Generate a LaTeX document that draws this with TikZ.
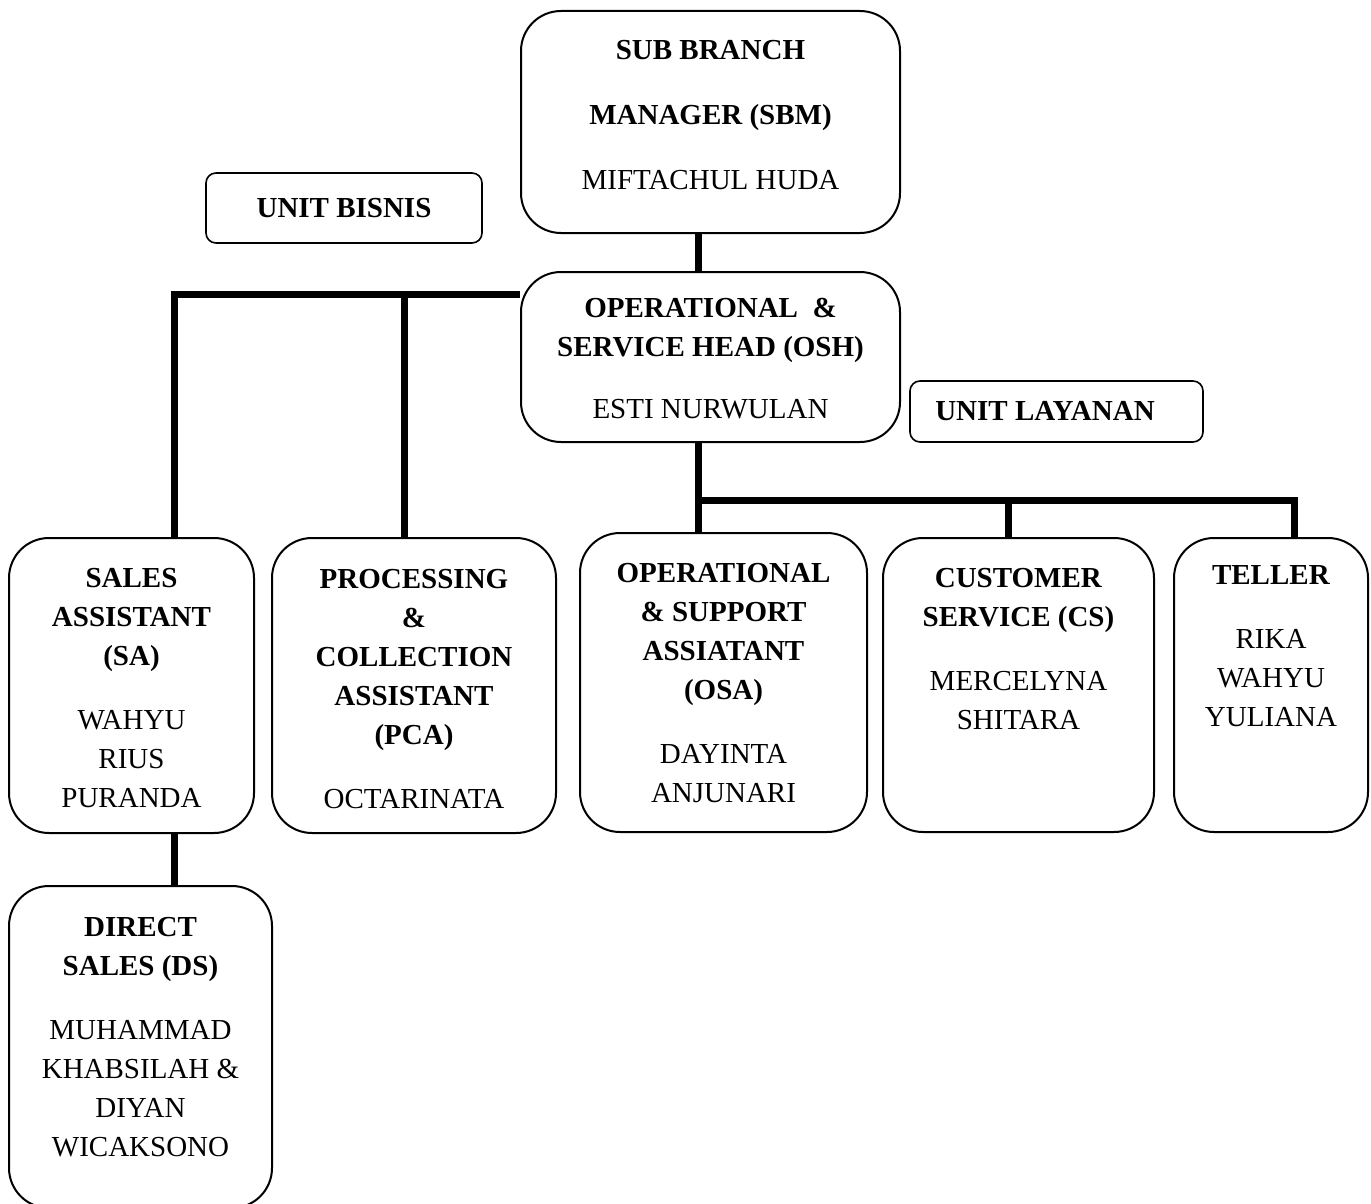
\documentclass[tikz,border=0pt]{standalone}
\usepackage{fontspec}
\setmainfont{Liberation Serif}
\begin{document}
\begin{tikzpicture}[x=0.5pt,y=-0.5pt,
  box/.style={draw,line width=1pt,rounded corners=20pt,inner sep=0pt},
  tag/.style={draw,line width=0.8pt,rounded corners=5pt,inner sep=0pt,font=\fontsize{14.5}{19.5}\selectfont\bfseries},
  txt/.style={anchor=north,align=center,inner sep=0pt,font=\fontsize{14.5}{19.5}\selectfont},
  link/.style={line width=3.5pt}]
\useasboundingbox (0,0) rectangle (1371,1204);
\node[box,minimum width=189.5pt,minimum height=111pt] (sbm) at (710.5,122) {};
\node[box,minimum width=189.5pt,minimum height=85pt] (osh) at (710.5,357) {};
\node[tag,minimum width=138pt,minimum height=35pt] (bisnis) at (344,208) {UNIT BISNIS};
\node[tag,minimum width=146.5pt,minimum height=30.5pt] (layanan) at (1056.5,411.5) {UNIT LAYANAN\hspace*{11.5pt}};
\node[box,minimum width=122.5pt,minimum height=147.5pt] (sa) at (131.5,685.5) {};
\node[box,minimum width=142pt,minimum height=147.5pt] (pca) at (414,685.5) {};
\node[box,minimum width=143.5pt,minimum height=149.5pt] (osa) at (723.5,682.5) {};
\node[box,minimum width=135.5pt,minimum height=147pt] (cs) at (1018.5,685) {};
\node[box,minimum width=97pt,minimum height=147pt] (tel) at (1271,685) {};
\node[box,minimum width=131.5pt,minimum height=161pt] (ds) at (140.5,1047) {};
\node[txt] (sbm-t) at (710.5,32) {\strut\textbf{SUB BRANCH}\\[13pt]\textbf{MANAGER (SBM)}\\[13pt]MIFTACHUL HUDA};
\node[txt] (osh-t) at (710.5,290) {\strut\textbf{OPERATIONAL\ \ \&}\\\textbf{SERVICE HEAD (OSH)}\\[11.5pt]ESTI NURWULAN};
\node[txt] (sa-t) at (131.5,560) {\strut\textbf{SALES}\\\textbf{ASSISTANT}\\\textbf{(SA)}\\[12.5pt]WAHYU\\RIUS\\PURANDA};
\node[txt] (pca-t) at (414,561) {\strut\textbf{PROCESSING}\\\textbf{\&}\\\textbf{COLLECTION}\\\textbf{ASSISTANT}\\\textbf{(PCA)}\\[12.5pt]OCTARINATA};
\node[txt] (osa-t) at (723.5,555) {\strut\textbf{OPERATIONAL}\\\textbf{\& SUPPORT}\\\textbf{ASSIATANT}\\\textbf{(OSA)}\\[12.5pt]DAYINTA\\ANJUNARI};
\node[txt] (cs-t) at (1018.5,560) {\strut\textbf{CUSTOMER}\\\textbf{SERVICE (CS)}\\[12.5pt]MERCELYNA\\SHITARA};
\node[txt] (tel-t) at (1271,557) {\strut\textbf{TELLER}\\[12.5pt]RIKA\\WAHYU\\YULIANA};
\node[txt] (ds-t) at (140.5,909) {\strut\textbf{DIRECT}\\\textbf{SALES (DS)}\\[12.5pt]MUHAMMAD\\KHABSILAH \&\\DIYAN\\WICAKSONO};
\coordinate (ja) at (174,294);
\coordinate (jp) at (404,294);
\coordinate (jb) at (698,500);
\coordinate (jc) at (1008,500);
\coordinate (jd) at (1294,500);
\draw[link] (sbm.south -| jb) -- (osh.north -| jb);
\draw[link] (osh.west |- ja) -- (ja) -- (ja |- sa.north);
\draw[link] (jp) -- (jp |- pca.north);
\draw[link] (sa.south -| ja) -- (ds.north -| ja);
\draw[link] (osh.south -| jb) -- (jb) -- (jd) -- (jd |- tel.north);
\draw[link] (jb) -- (jb |- osa.north);
\draw[link] (jc) -- (jc |- cs.north);
\end{tikzpicture}
\end{document}
